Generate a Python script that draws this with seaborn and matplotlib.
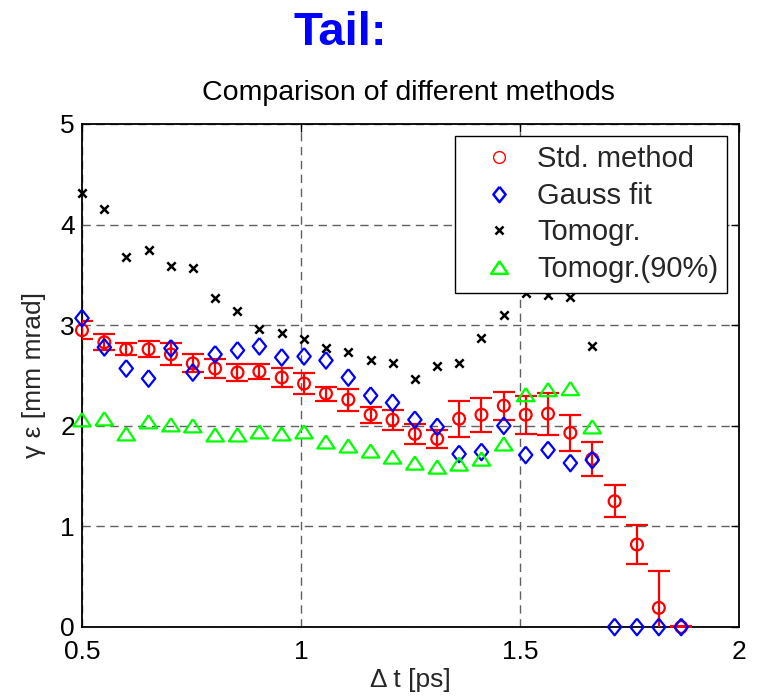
import numpy as np
import pandas as pd
import matplotlib
matplotlib.use("Agg")
import matplotlib.pyplot as plt
import seaborn as sns

# Time offsets along the bunch tail [ps]
delta_t = [0.500, 0.551, 0.601, 0.652, 0.703, 0.753, 0.804, 0.855, 0.905, 0.956,
           1.007, 1.057, 1.108, 1.159, 1.209, 1.260, 1.311, 1.361, 1.412, 1.463,
           1.513, 1.564, 1.615, 1.665, 1.716, 1.767, 1.817, 1.868]

# Standard method with its error bars
std_method = [2.95, 2.83, 2.76, 2.76, 2.71, 2.62, 2.57, 2.53, 2.54, 2.48,
              2.42, 2.32, 2.26, 2.11, 2.06, 1.92, 1.87, 2.07, 2.11, 2.20,
              2.11, 2.12, 1.93, 1.67, 1.25, 0.82, 0.19, 0.00]
std_err = [0.09, 0.08, 0.06, 0.08, 0.11, 0.09, 0.09, 0.08, 0.07, 0.09,
           0.10, 0.07, 0.11, 0.08, 0.10, 0.10, 0.09, 0.18, 0.17, 0.14,
           0.19, 0.21, 0.18, 0.17, 0.16, 0.19, 0.37, 0.01]

# Gaussian fit
gauss_fit = [3.07, 2.78, 2.57, 2.47, 2.77, 2.53, 2.71, 2.75, 2.79, 2.68,
             2.69, 2.65, 2.48, 2.30, 2.23, 2.06, 1.99, 1.72, 1.74, 2.00,
             1.71, 1.76, 1.63, 1.66, 0.00, 0.00, 0.00, 0.00]

# Tomography (full and 90% core), available for the first 24 slices
tomogr = [4.31, 4.16, 3.68, 3.75, 3.59, 3.57, 3.27, 3.14, 2.96, 2.92,
          2.86, 2.77, 2.73, 2.65, 2.62, 2.47, 2.59, 2.62, 2.87, 3.10,
          3.32, 3.30, 3.28, 2.79]
tomogr90 = [2.06, 2.07, 1.92, 2.04, 2.01, 2.00, 1.91, 1.91, 1.94, 1.92,
            1.94, 1.84, 1.80, 1.75, 1.69, 1.63, 1.59, 1.62, 1.67, 1.82,
            2.31, 2.36, 2.37, 1.99]

labels = ["Std. method", "Gauss fit", "Tomogr.", "Tomogr.(90%)"]
x_ticks = [0.5, 1, 1.5, 2]
x_tick_labels = ["0.5", "1", "1.5", "2"]
y_ticks = [0, 1, 2, 3, 4, 5]

sns.set_theme(style="white")
plt.rcParams["font.family"] = ["Liberation Sans", "DejaVu Sans"]

fig = plt.figure(figsize=(7.59, 6.98), dpi=100)
ax = fig.add_axes([82 / 759, 1 - 627 / 698, (739 - 82) / 759, (627 - 124) / 698])

df_std = pd.DataFrame({"t": delta_t, "v": std_method, "e": std_err})
df_gauss = pd.DataFrame({"t": delta_t, "v": gauss_fit})
df_tomo = pd.DataFrame({"t": delta_t[:len(tomogr)], "v": tomogr})
df_tomo90 = pd.DataFrame({"t": delta_t[:len(tomogr90)], "v": tomogr90})

# MATLAB-like marker shapes (wide diamond, flat triangle)
diamond = [(0, 1), (0.8, 0), (0, -1), (-0.8, 0), (0, 1)]
triangle = [(0, 0.76), (-1, -0.76), (1, -0.76), (0, 0.76)]

red, blue, green = "#ff0000", "#0000ff", "#00ff00"

ax.errorbar(df_std["t"], df_std["v"], yerr=df_std["e"], fmt="none",
            ecolor=red, elinewidth=1.6, capsize=8, capthick=1.6, zorder=3)

sns.scatterplot(data=df_std, x="t", y="v", ax=ax, marker="o", s=8.5 ** 2,
                facecolors="none", edgecolor=red, linewidth=1.6, zorder=4)
sns.scatterplot(data=df_gauss, x="t", y="v", ax=ax, marker=diamond, s=12 ** 2,
                facecolors="none", edgecolor=blue, linewidth=1.6, zorder=5)
sns.scatterplot(data=df_tomo, x="t", y="v", ax=ax, marker="x", s=6 ** 2,
                color="black", linewidth=1.8, zorder=5)
sns.scatterplot(data=df_tomo90, x="t", y="v", ax=ax, marker=triangle, s=12.5 ** 2,
                facecolors="none", edgecolor=green, linewidth=1.6, zorder=5)

for coll in ax.collections:
    if coll.__class__.__name__ == "PathCollection":
        coll.set_clip_on(False)

handles = [
    plt.Line2D([], [], ls="none", marker="o", ms=8.5, mfc="none", mec=red, mew=1.0),
    plt.Line2D([], [], ls="none", marker=diamond, ms=11, mfc="none", mec=blue, mew=1.8),
    plt.Line2D([], [], ls="none", marker="x", ms=5.5, color="black", mew=1.8),
    plt.Line2D([], [], ls="none", marker=triangle, ms=12, mfc="none", mec=green, mew=1.8),
]
leg = ax.legend(handles, labels, loc="upper right", fontsize=21, frameon=True,
                fancybox=False, framealpha=1, edgecolor="black",
                borderpad=0.32, labelspacing=0.3, handlelength=2.4,
                handletextpad=0.1, borderaxespad=0.4)
leg.get_frame().set_linewidth(1.0)

ax.set_xlim(0.5, 2)
ax.set_ylim(0, 5)
ax.set_xticks(x_ticks)
ax.set_xticklabels(x_tick_labels)
ax.set_yticks(y_ticks)
ax.tick_params(axis="both", which="both", direction="in", length=6, width=1,
               labelsize=19, top=True, right=True, colors="black")
ax.tick_params(axis="x", pad=9.5)
ax.tick_params(axis="y", pad=5)

ax.grid(True, color="#606060", linestyle=(0, (6, 4)), linewidth=1.0)
ax.set_axisbelow(True)
for sp in ax.spines.values():
    sp.set_color("black")
    sp.set_linewidth(1.3)
    sp.set_visible(True)

ax.set_xlabel("Δ t [ps]", fontsize=19, labelpad=3)
ax.set_ylabel("γ ε [mm mrad]", fontsize=19, labelpad=10)

fig.text(340 / 759, 1 - 45 / 698, "Tail:", ha="center", va="baseline",
         fontsize=34, fontweight="bold", color=blue)
fig.text(408 / 759, 1 - 100 / 698, "Comparison of different methods",
         ha="center", va="baseline", fontsize=20.5, color="black")

fig.savefig("out.png", dpi=100, facecolor="white")
